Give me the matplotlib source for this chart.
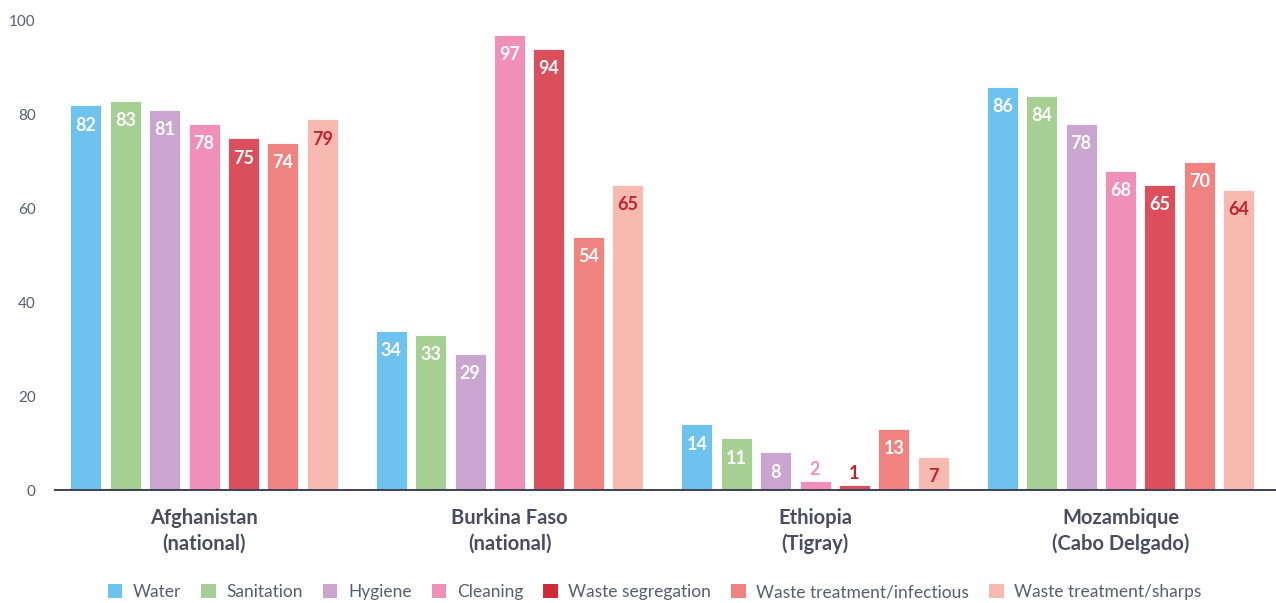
import matplotlib
matplotlib.use("Agg")
import matplotlib.pyplot as plt
from matplotlib.patches import Patch
import numpy as np

plt.rcParams['font.family'] = ['Lato', 'DejaVu Sans']

categories = ["Afghanistan\n(national)", "Burkina Faso\n(national)", "Ethiopia\n(Tigray)", "Mozambique\n(Cabo Delgado)"]
series = ["Water", "Sanitation", "Hygiene", "Cleaning", "Waste segregation",
          "Waste treatment/infectious", "Waste treatment/sharps"]
water = [82, 34, 14, 86]
sanitation = [83, 33, 11, 84]
hygiene = [81, 29, 8, 78]
cleaning = [78, 97, 2, 68]
waste_segregation = [75, 94, 1, 65]
waste_infectious = [74, 54, 13, 70]
waste_sharps = [79, 65, 7, 64]
values = [water, sanitation, hygiene, cleaning, waste_segregation, waste_infectious, waste_sharps]
yticks = [0, 20, 40, 60, 80, 100]

bar_colors = ["#6ec3ee", "#a6cf94", "#c9a5cf", "#f08fb8", "#da4f5b", "#f0837f", "#f8b9b1"]
legend_colors = ["#6ec3ee", "#a6cf94", "#c9a5cf", "#f08fb8", "#d12a37", "#f0837f", "#f8b9b1"]
label_colors = ["white", "white", "white", "white", "white", "white", "#c0232e"]

fig = plt.figure(figsize=(12.76, 6.03), dpi=100)
ax = fig.add_axes([55/1276, 113/603, 1 - 55/1276, 469/603])

x = np.arange(len(categories))
pitch = 0.129
width = 0.1015
n = len(series)
for i, (vals, c) in enumerate(zip(values, bar_colors)):
    xs = x + (i - (n - 1) / 2) * pitch
    ax.bar(xs, vals, width=width, color=c, edgecolor='white', linewidth=0.6, zorder=2)
    for xi, v in zip(xs, vals):
        if v < 5:
            ax.text(xi, v + 0.6, str(v), ha='center', va='bottom', color=c if i != 4 else "#c0232e",
                    fontsize=13, fontweight='bold')
        else:
            ax.text(xi, v - 2.4, str(v), ha='center', va='top', color=label_colors[i],
                    fontsize=13, fontweight='bold')

ax.set_xlim(-0.488, 3.509)
ax.set_ylim(0, 100)
ax.set_yticks(yticks)
ax.set_yticklabels([str(t) for t in yticks])
ax.set_xticks(x)
ax.set_xticklabels(categories, fontsize=14.5, fontweight='bold', color='#4a4d5e', linespacing=1.35)
ax.tick_params(axis='both', length=0)
ax.tick_params(axis='y', labelsize=11, labelcolor='#5a5d6b', pad=14)
ax.tick_params(axis='x', pad=13)
for s in ['top', 'right', 'left']:
    ax.spines[s].set_visible(False)
ax.spines['bottom'].set_color('#3d4055')
ax.spines['bottom'].set_linewidth(1.4)
ax.spines['bottom'].set_zorder(3)

handles = [Patch(facecolor=c, edgecolor='none') for c in legend_colors]
fig.legend(handles, series, loc='center', bbox_to_anchor=(0.513, 0.018), ncol=7, frameon=False,
           fontsize=12.5, labelcolor='#5a5d6b', handlelength=0.85, handleheight=0.85,
           handletextpad=0.6, columnspacing=1.15, borderpad=0.2)

fig.savefig("out.png", dpi=100)
